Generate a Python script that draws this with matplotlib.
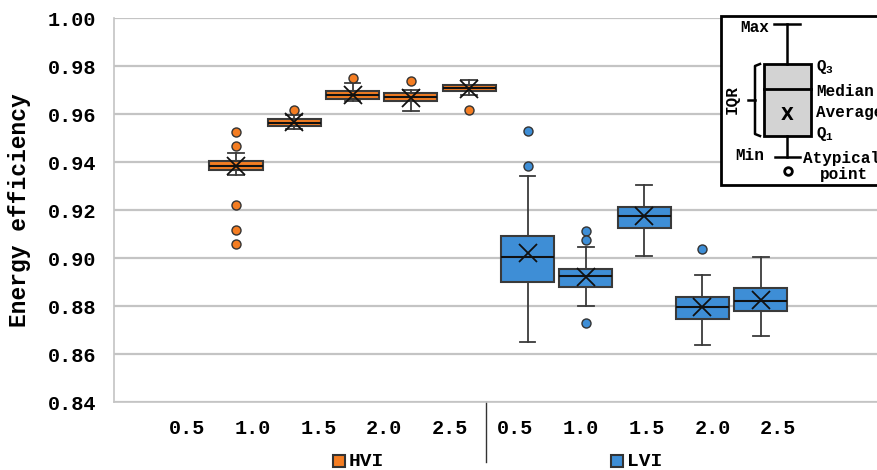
import matplotlib
matplotlib.use("Agg")
import matplotlib.pyplot as plt
from matplotlib.patches import Rectangle
import matplotlib.transforms as mtransforms

MONO = "Liberation Mono"

# ---- data (energy efficiency) ----
groups = ["HVI", "LVI"]
speeds = ["0.5", "1.0", "1.5", "2.0", "2.5"]
colors = {"HVI": "#F47D22", "LVI": "#3E8ED6"}

hvi_q1 = [0.9367, 0.9550, 0.9661, 0.9655, 0.9695]
hvi_med = [0.9385, 0.9564, 0.9681, 0.9672, 0.9710]
hvi_q3 = [0.9404, 0.9578, 0.9695, 0.9689, 0.9722]
hvi_lo = [0.9346, 0.9538, 0.9653, 0.9612, 0.9680]
hvi_hi = [0.9439, 0.9595, 0.9729, 0.9700, 0.9743]
hvi_mean = [0.9383, 0.9565, 0.9680, 0.9668, 0.9705]
hvi_out = [[0.9526, 0.9465, 0.9221, 0.9117, 0.9060], [0.9617], [0.9750], [0.9736], [0.9615]]

lvi_q1 = [0.8899, 0.8878, 0.9126, 0.8745, 0.8778]
lvi_med = [0.9003, 0.8924, 0.9174, 0.8795, 0.8821]
lvi_q3 = [0.9093, 0.8954, 0.9213, 0.8838, 0.8874]
lvi_lo = [0.8651, 0.8799, 0.9010, 0.8637, 0.8675]
lvi_hi = [0.9340, 0.9046, 0.9303, 0.8929, 0.9003]
lvi_mean = [0.9022, 0.8920, 0.9173, 0.8795, 0.8825]
lvi_out = [[0.9530, 0.9385], [0.9114, 0.9076, 0.8730], [], [0.9039], []]

yticks = [0.84, 0.86, 0.88, 0.90, 0.92, 0.94, 0.96, 0.98, 1.00]


def make_stats(q1, med, q3, lo, hi, mean, out):
    return [
        dict(q1=a, med=b, q3=c, whislo=d, whishi=e, mean=f, fliers=g)
        for a, b, c, d, e, f, g in zip(q1, med, q3, lo, hi, mean, out)
    ]


stats = {
    "HVI": make_stats(hvi_q1, hvi_med, hvi_q3, hvi_lo, hvi_hi, hvi_mean, hvi_out),
    "LVI": make_stats(lvi_q1, lvi_med, lvi_q3, lvi_lo, lvi_hi, lvi_mean, lvi_out),
}

W, H = 877, 470
fig = plt.figure(figsize=(W / 100, H / 100), dpi=100)
ax = fig.add_axes([114 / W, (H - 402) / H, (W - 114) / W, 384 / H])

edge = "#3a3a3a"
for gi, g in enumerate(groups):
    pos = [gi * 5 + i for i in range(5)]
    ax.bxp(
        stats[g], positions=pos, widths=0.91, capwidths=0.27,
        showmeans=True, patch_artist=True,
        boxprops=dict(facecolor=colors[g], edgecolor=edge, linewidth=1.5),
        medianprops=dict(color="#111111", linewidth=1.5),
        whiskerprops=dict(color=edge, linewidth=1.3),
        capprops=dict(color=edge, linewidth=1.3),
        meanprops=dict(marker="x", markersize=13, markeredgecolor="#111111",
                       markeredgewidth=1.3),
        flierprops=dict(marker="o", markersize=6.5, markerfacecolor=colors[g],
                        markeredgecolor="#333333", markeredgewidth=1.0),
        zorder=3,
    )

ax.set_xlim(-2.093, 10.995)
ax.set_ylim(0.84, 1.00)
ax.set_yticks(yticks)
ax.set_yticklabels([f"{v:.2f}" for v in yticks], fontfamily=MONO,
                   fontweight="bold", fontsize=14.5)
ax.tick_params(axis="y", length=0, pad=13)
ax.set_xticks([])
ax.grid(axis="y", color="#c4c4c4", linewidth=1.6, zorder=0)
ax.set_axisbelow(True)
for s in ["top", "right"]:
    ax.spines[s].set_visible(False)
for s in ["left", "bottom"]:
    ax.spines[s].set_color("#c4c4c4")
    ax.spines[s].set_linewidth(1.2)

ax.set_ylabel("Energy efficiency", fontfamily=MONO, fontweight="bold",
              fontsize=16.5, labelpad=12)

# category labels under the axis (offset like the original sheet chart)
trans = mtransforms.blended_transform_factory(ax.transData, ax.transAxes)
label_x = [-0.84 + 1.127 * i for i in range(10)]
for i, x in enumerate(label_x):
    ax.text(x, -0.068, speeds[i % 5], transform=trans, ha="center", va="center",
            fontfamily=MONO, fontweight="bold", fontsize=14.5)
ax.plot([4.29, 4.29], [0, -0.156], transform=trans, color="#333333",
        linewidth=1.0, clip_on=False)

# group keys
for g, sx in zip(groups, [339, 617]):
    fig.patches.append(Rectangle(((sx - 6) / W, (H - 467) / H), 12 / W, 12 / H,
                                 transform=fig.transFigure, facecolor=colors[g],
                                 edgecolor="#333333", linewidth=1.5))
    fig.text((sx + 10) / W, (H - 461) / H, g, ha="left", va="center",
             fontfamily=MONO, fontweight="bold", fontsize=14)

# inset explaining the box elements (figure pixel coordinates)
lx = fig.add_axes([0, 0, 1, 1], facecolor="none")
lx.set_xlim(0, W)
lx.set_ylim(H, 0)
lx.axis("off")
lx.add_patch(Rectangle((721, 16), 170, 169, facecolor="white", edgecolor="black",
                       linewidth=2, clip_on=False))
k = "black"
lx.plot([787, 787], [24, 64], color=k, lw=1.8)
lx.plot([787, 787], [136, 157], color=k, lw=1.8)
lx.plot([774, 800], [24, 24], color=k, lw=1.8)
lx.plot([775, 800], [157, 157], color=k, lw=1.8)
lx.add_patch(Rectangle((764, 64), 47, 72, facecolor="#d3d3d3", edgecolor=k, linewidth=2))
lx.plot([764, 811], [89, 89], color=k, lw=2)
lx.text(787, 115, "X", ha="center", va="center", fontsize=12, fontweight="bold",
        fontfamily="DejaVu Sans")
lx.plot([788], [171], marker="o", markersize=5.5, markerfacecolor="white",
        markeredgecolor=k, markeredgewidth=2)
lx.plot([760, 755, 755, 760], [64, 66, 134, 136], color=k, lw=1.8)
lx.plot([755, 748], [100, 100], color=k, lw=1.8)

tk = dict(fontfamily=MONO, fontweight="bold", fontsize=11.5, va="center")
lx.text(769, 27, "Max", ha="right", **tk)
lx.text(816, 67, r"Q$_\mathregular{3}$", ha="left", **tk)
lx.text(816, 92, "Median", ha="left", **tk)
lx.text(816, 113, "Average", ha="left", **tk)
lx.text(816, 134, r"Q$_\mathregular{1}$", ha="left", **tk)
lx.text(764, 155, "Min", ha="right", **tk)
lx.text(803, 158, "Atypical", ha="left", **tk)
lx.text(844, 175, "point", ha="center", **tk)
lx.text(732, 100, "IQR", ha="center", rotation=90, **tk)

fig.savefig("out.png", dpi=100)
